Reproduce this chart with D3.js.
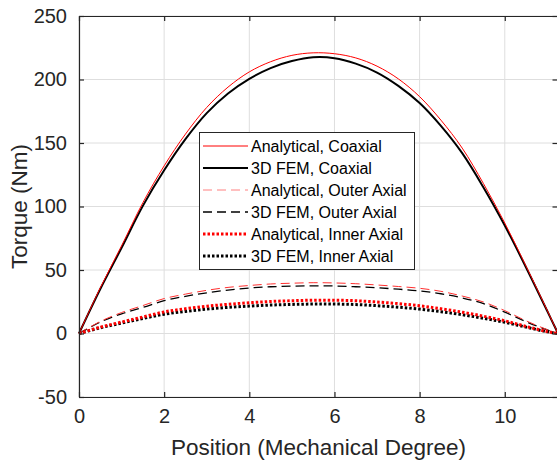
<!DOCTYPE html>
<html>
<head>
<meta charset="utf-8">
<script src="https://cdn.jsdelivr.net/npm/d3@7"></script>
<style>
  html, body { margin: 0; padding: 0; background: #fff; }
  svg { display: block; font-family: "Liberation Sans", Arial, sans-serif; }
</style>
</head>
<body>
<svg id="chart" width="557" height="463"></svg>
<script>
// Rotor position (mechanical degrees) at which torque was sampled
const positions = [0, 0.5, 1, 1.5, 2, 2.5, 3, 3.5, 4, 4.5, 5, 5.5, 6, 6.5, 7, 7.5, 8, 8.5, 9, 9.5, 10, 10.5, 11, 11.25];

// Torque (Nm) for each configuration
const analyticalCoaxial = [0, 36, 69, 103, 132, 157, 178, 194, 206, 214, 219, 221, 220.3, 217, 210.5, 200.5, 186.5, 168, 146, 118, 87, 53, 18, 0];
const femCoaxial        = [0, 35, 67.5, 100.5, 128.5, 153, 173.5, 189, 200.5, 209, 214.5, 217.5, 216.8, 212.5, 205.5, 195, 181.5, 163.5, 142, 115, 85, 52, 17.5, 0];
const analyticalOuter   = [0, 9.5, 16.5, 22, 27.5, 31, 34, 36.3, 37.8, 39, 39.6, 40, 39.8, 39.2, 38.2, 37, 35.6, 33.2, 29.5, 24.8, 18, 10, 3, 0];
const femOuter          = [0, 9, 15.5, 20.5, 25.8, 29.3, 32, 34.2, 35.8, 36.8, 37.3, 37.5, 37.4, 36.8, 36, 34.9, 33.5, 31.3, 28, 23.5, 16.8, 9.3, 2.8, 0];
const analyticalInner   = [0, 5, 9, 13, 17, 19.5, 21.5, 23, 24.2, 25.2, 25.8, 26.2, 26.2, 25.8, 24.8, 23.5, 21.8, 19.5, 16.8, 13.6, 10, 5.6, 1.5, 0];
const femInner          = [0, 4.5, 8.2, 11.8, 15.2, 17.4, 19.2, 20.6, 21.6, 22.4, 22.9, 23.2, 23.2, 22.8, 21.9, 20.7, 19.2, 17.2, 14.8, 12, 8.8, 5, 1.3, 0];

const seriesNames = [
  "Analytical, Coaxial",
  "3D FEM, Coaxial",
  "Analytical, Outer Axial",
  "3D FEM, Outer Axial",
  "Analytical, Inner Axial",
  "3D FEM, Inner Axial"
];

const xTicks = [0, 2, 4, 6, 8, 10];
const yTicks = [-50, 0, 50, 100, 150, 200, 250];

// Line style per series
const styles = [
  { color: "#ff0000", width: 1,   dash: null,    legendColor: "#ff0000" },
  { color: "#000000", width: 2,   dash: null,    legendColor: "#000000" },
  { color: "#ff3030", width: 1,   dash: "9,5",   legendColor: "#ff8080" },
  { color: "#000000", width: 1.3, dash: "9,5",   legendColor: "#000000" },
  { color: "#ff0000", width: 3,   dash: "2.5,2", legendColor: "#ff0000" },
  { color: "#000000", width: 3,   dash: "2.5,2", legendColor: "#000000" }
];

const seriesValues = [analyticalCoaxial, femCoaxial, analyticalOuter, femOuter, analyticalInner, femInner];

const svg = d3.select("#chart");
const plot = { left: 79, right: 558, top: 16, bottom: 397 };

const x = d3.scaleLinear().domain([0, 11.25]).range([plot.left, plot.right]);
const y = d3.scaleLinear().domain([-50, 250]).range([plot.bottom, plot.top]);

// Grid
const grid = svg.append("g").attr("stroke", "#dedede").attr("stroke-width", 1);
xTicks.forEach(t => {
  grid.append("line").attr("x1", x(t)).attr("x2", x(t)).attr("y1", plot.top).attr("y2", plot.bottom);
});
yTicks.forEach(t => {
  grid.append("line").attr("x1", plot.left).attr("x2", plot.right).attr("y1", y(t)).attr("y2", y(t));
});

// Curves
const line = d3.line()
  .x((d, i) => x(positions[i]))
  .y(d => y(d))
  .curve(d3.curveCatmullRom.alpha(0.5));

const curves = svg.append("g");
// FEM curves first, analytical ones drawn on top
[1, 0, 3, 2, 5, 4].forEach(k => {
  const s = styles[k];
  curves.append("path")
    .datum(seriesValues[k])
    .attr("d", line)
    .attr("fill", "none")
    .attr("stroke", s.color)
    .attr("stroke-width", s.width)
    .attr("stroke-dasharray", s.dash)
    .attr("stroke-linejoin", "round");
});

// Axes (inward ticks on all four sides)
const axisColor = "#262626";
const tickLen = 5;
const plain = d => String(d);
const axisBottom = d3.axisBottom(x).tickValues(xTicks).tickFormat(plain).tickSizeInner(-tickLen).tickSizeOuter(0).tickPadding(12);
const axisTop = d3.axisTop(x).tickValues(xTicks).tickSizeInner(-tickLen).tickSizeOuter(0).tickFormat("");
const axisLeft = d3.axisLeft(y).tickValues(yTicks).tickFormat(plain).tickSizeInner(-tickLen).tickSizeOuter(0).tickPadding(12);
const axisRight = d3.axisRight(y).tickValues(yTicks).tickSizeInner(-tickLen).tickSizeOuter(0).tickFormat("");

function styleAxis(g) {
  g.select(".domain").attr("stroke", axisColor).attr("stroke-width", 1.2);
  g.selectAll(".tick line").attr("stroke", axisColor).attr("stroke-width", 1.2);
  g.selectAll(".tick text").attr("fill", "#262626").attr("font-size", 20)
    .attr("font-family", "'Liberation Sans', Arial, sans-serif");
}

svg.append("g").attr("transform", `translate(0,${plot.bottom})`).call(axisBottom).call(styleAxis);
svg.append("g").attr("transform", `translate(0,${plot.top})`).call(axisTop).call(styleAxis);
svg.append("g").attr("transform", `translate(${plot.left},0)`).call(axisLeft).call(styleAxis);
svg.append("g").attr("transform", `translate(${plot.right - 0.5},0)`).call(axisRight).call(styleAxis);

// Axis titles
svg.append("text")
  .attr("x", (plot.left + plot.right) / 2)
  .attr("y", 455)
  .attr("text-anchor", "middle")
  .attr("font-size", 22.5)
  .attr("fill", "#262626")
  .text("Position (Mechanical Degree)");

svg.append("text")
  .attr("transform", `translate(27,${(plot.top + plot.bottom) / 2}) rotate(-90)`)
  .attr("text-anchor", "middle")
  .attr("font-size", 22.5)
  .attr("fill", "#262626")
  .text("Torque (Nm)");

// Legend
const legend = svg.append("g");
legend.append("rect")
  .attr("x", 199.5).attr("y", 132.5)
  .attr("width", 215).attr("height", 137)
  .attr("fill", "#fff")
  .attr("stroke", "#262626")
  .attr("stroke-width", 1);

seriesNames.forEach((name, i) => {
  const s = styles[i];
  const cy = 146 + i * 22;
  legend.append("line")
    .attr("x1", 203).attr("x2", 248)
    .attr("y1", cy).attr("y2", cy)
    .attr("stroke", s.legendColor)
    .attr("stroke-width", s.width)
    .attr("stroke-dasharray", s.dash);
  legend.append("text")
    .attr("x", 251).attr("y", cy)
    .attr("dy", "0.35em")
    .attr("font-size", 16)
    .attr("fill", "#000")
    .text(name);
});
</script>
</body>
</html>
